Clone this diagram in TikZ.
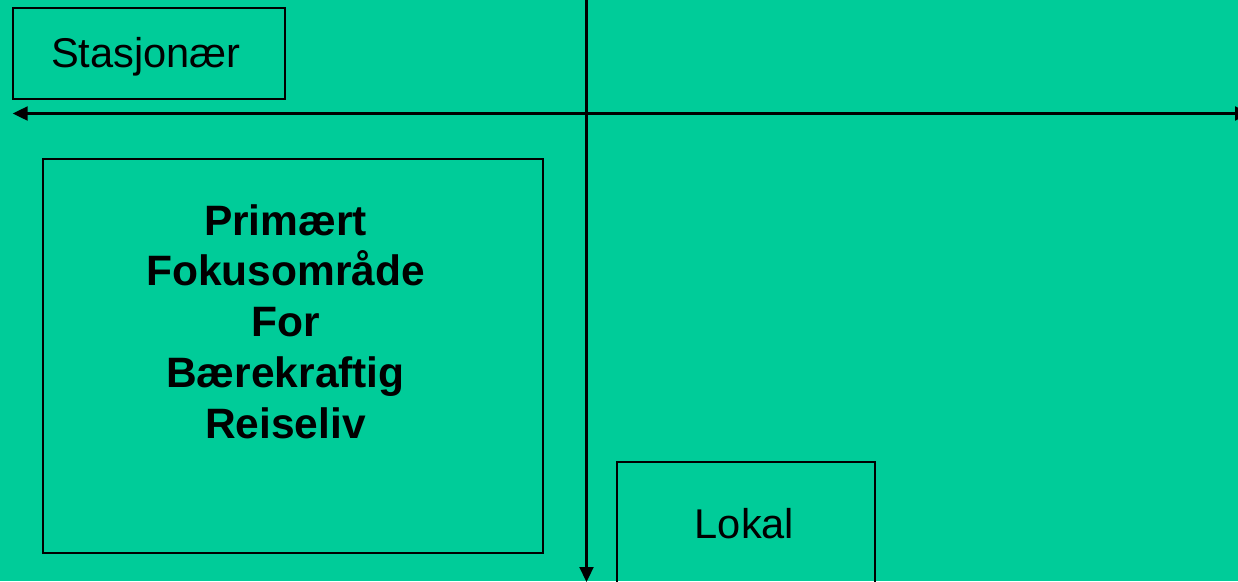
\documentclass[tikz,border=0pt]{standalone}
\usepackage{fontspec}
\setmainfont{Liberation Sans}
\usetikzlibrary{arrows.meta}
\definecolor{bggreen}{HTML}{00CC99}
\begin{document}
\begin{tikzpicture}[x=1pt,y=-1pt,
  boxstyle/.style={draw=black, line width=1.6pt, rectangle, inner sep=0pt},
  regtext/.style={font=\fontsize{41.6}{50}\selectfont, inner sep=0pt},
  boldtext/.style={font=\fontsize{42.5}{50.7}\selectfont\bfseries, align=center, inner sep=0pt},
  axis/.style={draw=black, line width=2.2pt, -{Triangle[length=15pt,width=14pt]}}
]
\useasboundingbox (0,0) rectangle (1238,581);
\clip (0,0) rectangle (1238,581);
\fill[bggreen] (0,0) rectangle (1238,581);

% boxes
\node[boxstyle, minimum width=272pt, minimum height=91pt, anchor=north west] (stas) at (12,7) {};
\node[regtext, anchor=base] (stastext) at (146,67) {Stasjon\ae r};
\node[boxstyle, minimum width=500pt, minimum height=394pt, anchor=north west] (focus) at (42,158) {};
\node[boldtext, anchor=base] (focustext) at (285.5,438) {Prim\ae rt\\Fokusområde\\For\\B\ae rekraftig\\Reiseliv};
\node[boxstyle, minimum width=258pt, minimum height=140pt, anchor=north west] (lokal) at (616,461) {};
\node[regtext, anchor=base] (lokaltext) at (744.5,538) {Lokal};

% axes
\coordinate (hleft) at (12.7,113.5);
\coordinate (hright) at (1250,113.5);
\coordinate (vtop) at (586.5,-5);
\coordinate (vbot) at (586.5,582);
\draw[axis, {Triangle[length=15pt,width=14pt]}-{Triangle[length=15pt,width=14pt]}] (hleft) -- (hright);
\draw[axis] (vtop) -- (vbot);
\end{tikzpicture}
\end{document}
